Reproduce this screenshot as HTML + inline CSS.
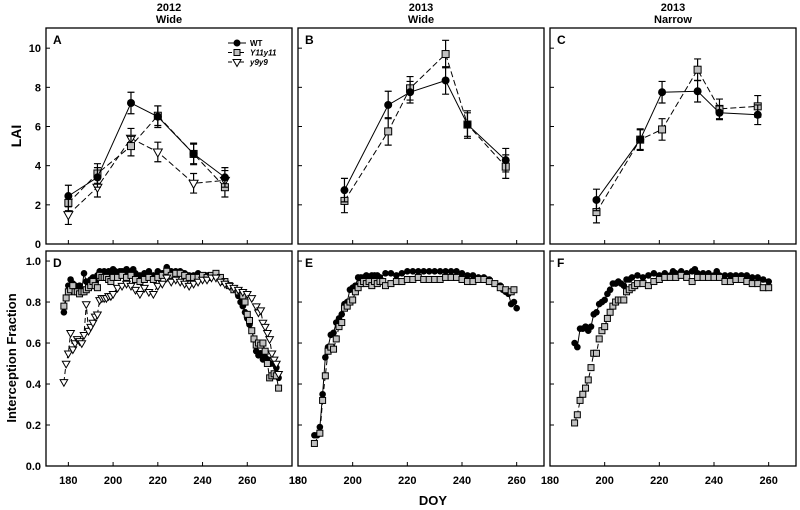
<!DOCTYPE html>
<html><head><meta charset="utf-8"><style>
body{margin:0;background:#fff;}
svg{display:block;font-family:"Liberation Sans",Arial,sans-serif;}
</style></head><body>
<svg id="c" width="800" height="510"></svg>
<script>
// ---- LAI data (top row) ----
const laiDaysA = [180,193,208,220,236,250];
const laiDaysBC = [197,213,221,234,242,256];
const laiA_WT = [2.45,3.4,7.2,6.5,4.6,3.4];
const laiA_WT_err = [0.55,0.5,0.55,0.55,0.55,0.5];
const laiA_Y11 = [2.1,3.6,5.0,6.55,4.6,2.9];
const laiA_Y11_err = [0.4,0.5,0.5,0.5,0.5,0.5];
const laiA_y9 = [1.5,2.9,5.4,4.7,3.1,3.25];
const laiA_y9_err = [0.5,0.5,0.5,0.5,0.5,0.5];
const laiB_WT = [2.75,7.1,7.75,8.35,6.1,4.28];
const laiB_WT_err = [0.6,0.7,0.55,0.7,0.7,0.6];
const laiB_Y11 = [2.2,5.75,7.95,9.7,6.1,3.95];
const laiB_Y11_err = [0.6,0.7,0.6,0.7,0.6,0.6];
const laiC_WT = [2.25,5.33,7.75,7.8,6.7,6.6];
const laiC_WT_err = [0.55,0.5,0.55,0.55,0.35,0.5];
const laiC_Y11 = [1.63,5.33,5.85,8.9,6.9,7.03];
const laiC_Y11_err = [0.55,0.55,0.55,0.55,0.5,0.55];
// ---- Interception data (bottom row) ----
const dDaysWT = [178,179,180,181,182,183,184,185,186,187,188,189,190,191,192,193,194,195,196,197,198,199,200,201,202,203,204,205,206,207,208,209,210,212,214,216,218,220,222,224,226,228,230,232,234,236,238,240,242,244,246,248,250,252,254,256,257,258,259,260,261,262,263,264,265,266,267,268,269,270,271,272,273,274];
const dWT = [0.75,0.82,0.88,0.91,0.89,0.88,0.87,0.88,0.86,0.94,0.9,0.9,0.91,0.92,0.9,0.93,0.95,0.94,0.95,0.94,0.95,0.93,0.96,0.95,0.94,0.95,0.95,0.94,0.96,0.94,0.95,0.96,0.94,0.93,0.94,0.95,0.93,0.95,0.94,0.97,0.95,0.95,0.95,0.94,0.93,0.93,0.94,0.93,0.93,0.93,0.93,0.92,0.9,0.88,0.86,0.83,0.8,0.78,0.75,0.72,0.69,0.66,0.62,0.56,0.54,0.55,0.52,0.53,0.52,0.5,0.5,0.5,0.48,0.43];
const dDaysY11 = [178,179,180,181,182,183,184,185,186,187,188,189,190,191,192,193,194,195,196,197,198,199,200,202,204,206,208,210,212,214,216,218,220,222,224,226,228,230,232,234,236,238,240,242,244,246,248,250,252,254,256,258,259,260,261,262,263,264,265,266,267,268,269,270,271,272,273,274];
const dY11 = [0.78,0.82,0.85,0.86,0.88,0.85,0.85,0.84,0.85,0.85,0.86,0.87,0.88,0.9,0.88,0.87,0.93,0.92,0.92,0.92,0.91,0.9,0.92,0.92,0.93,0.92,0.93,0.91,0.9,0.91,0.92,0.91,0.92,0.93,0.95,0.93,0.94,0.94,0.93,0.92,0.92,0.92,0.93,0.92,0.93,0.94,0.92,0.9,0.88,0.86,0.85,0.83,0.8,0.74,0.71,0.66,0.62,0.59,0.6,0.59,0.6,0.56,0.5,0.43,0.44,0.45,0.44,0.38];
const dDaysY9 = [178,179,180,181,182,183,184,185,186,187,188,189,190,191,192,193,194,195,196,197,198,199,200,202,204,206,208,210,212,214,216,218,220,222,224,226,228,230,232,234,236,238,240,242,244,246,248,250,252,254,256,258,260,262,264,265,266,267,268,269,270,271,272,273,274];
const dY9 = [0.41,0.5,0.55,0.65,0.57,0.6,0.62,0.61,0.6,0.64,0.79,0.66,0.68,0.7,0.73,0.74,0.81,0.82,0.82,0.82,0.83,0.83,0.84,0.87,0.88,0.89,0.88,0.86,0.84,0.87,0.85,0.84,0.88,0.89,0.92,0.9,0.91,0.9,0.89,0.88,0.89,0.9,0.91,0.91,0.92,0.92,0.9,0.89,0.88,0.87,0.86,0.85,0.84,0.82,0.78,0.75,0.76,0.7,0.68,0.65,0.62,0.55,0.52,0.5,0.45];
const eDaysWT = [186,187,188,189,190,191,192,193,194,195,196,197,198,199,200,201,202,203,204,205,206,207,208,209,210,212,214,216,218,220,222,224,226,228,230,232,234,236,238,240,242,244,246,248,250,252,254,255,256,257,258,259,260];
const eWT = [0.15,0.15,0.19,0.35,0.53,0.58,0.64,0.65,0.7,0.72,0.74,0.79,0.8,0.86,0.87,0.88,0.92,0.92,0.92,0.93,0.92,0.93,0.93,0.93,0.92,0.94,0.94,0.93,0.94,0.95,0.95,0.95,0.95,0.95,0.95,0.95,0.95,0.95,0.95,0.94,0.93,0.93,0.92,0.92,0.91,0.89,0.88,0.86,0.85,0.84,0.79,0.8,0.77];
const eDaysY11 = [186,188,189,190,191,192,193,194,195,196,197,198,199,200,201,202,203,204,205,206,207,208,209,210,211,212,214,216,218,220,222,224,226,228,230,232,234,236,238,240,242,244,246,248,250,252,254,256,258,259];
const eY11 = [0.11,0.16,0.32,0.44,0.56,0.58,0.57,0.62,0.68,0.7,0.77,0.78,0.8,0.81,0.85,0.87,0.89,0.9,0.89,0.9,0.88,0.9,0.89,0.9,0.9,0.88,0.89,0.9,0.9,0.91,0.91,0.92,0.91,0.91,0.91,0.91,0.92,0.92,0.92,0.91,0.9,0.9,0.91,0.91,0.9,0.89,0.87,0.86,0.85,0.86];
const fDaysWT = [189,190,191,192,193,194,195,196,197,198,199,200,201,202,203,204,205,206,207,208,209,210,212,214,216,218,220,222,224,225,226,228,230,232,233,234,236,238,240,241,242,244,246,248,250,252,254,256,258,260];
const fWT = [0.6,0.58,0.67,0.67,0.68,0.66,0.68,0.74,0.75,0.79,0.8,0.81,0.84,0.86,0.89,0.89,0.9,0.89,0.88,0.91,0.91,0.92,0.93,0.92,0.93,0.94,0.93,0.94,0.93,0.95,0.94,0.95,0.94,0.95,0.96,0.94,0.94,0.94,0.93,0.95,0.93,0.93,0.93,0.93,0.93,0.93,0.92,0.92,0.91,0.9];
const fDaysY11 = [189,190,191,192,193,194,195,196,197,198,199,200,201,202,203,204,205,206,207,208,209,210,211,212,214,216,218,220,222,224,226,228,230,232,234,236,238,240,242,244,246,248,250,252,254,256,258,260];
const fY11 = [0.21,0.25,0.32,0.35,0.38,0.42,0.48,0.55,0.55,0.62,0.66,0.68,0.72,0.75,0.78,0.8,0.81,0.81,0.81,0.85,0.86,0.87,0.88,0.89,0.89,0.88,0.9,0.91,0.92,0.92,0.92,0.93,0.92,0.9,0.92,0.92,0.92,0.92,0.92,0.9,0.9,0.91,0.91,0.9,0.89,0.89,0.87,0.87];
const xTicks = [180,200,220,240,260];
const laiTicks = [0,2,4,6,8,10];
const ifTicks = [0.0,0.2,0.4,0.6,0.8,1.0];

const NS='http://www.w3.org/2000/svg';
const svg=document.getElementById('c');
function mk(tag,attrs,parent){const e=document.createElementNS(NS,tag);for(const k in attrs)e.setAttribute(k,attrs[k]);(parent||svg).appendChild(e);return e;}
function txt(x,y,s,attrs,name){const t=mk('text',Object.assign({x:x,y:y},attrs));t.textContent=s;


return t;}

const cols=[{l:46,r:292,d0:170,d1:280},{l:298,r:544,d0:180,d1:270},{l:550,r:796,d0:180,d1:270}];
const topRow={t:28,b:244,v0:0,v1:11.03};
const botRow={t:251,b:466,v0:0,v1:1.049};
function X(c,d){return c.l+(d-c.d0)/(c.d1-c.d0)*(c.r-c.l);}
function Y(r,v){return r.b-(v-r.v0)/(r.v1-r.v0)*(r.b-r.t);}

function marker(kind,x,y,size,g){
  let m;
  if(kind==='WT'){m=mk('circle',{cx:x,cy:y,r:size,fill:'#000'},g);}
  else if(kind==='Y11'){m=mk('rect',{x:x-size,y:y-size,width:2*size,height:2*size,fill:'#c0c0c0',stroke:'#000','stroke-width':1},g);}
  else {m=mk('path',{d:`M${x-size-0.5},${y-size+1}L${x+size+0.5},${y-size+1}L${x},${y+size+1}Z`,fill:'#fff',stroke:'#000','stroke-width':1},g);}
  
  
}
function series(c,r,days,vals,kind,dash,size,errs,name){
  const g=mk('g',{});
  
  
  const pts=days.map((d,i)=>X(c,d).toFixed(1)+','+Y(r,vals[i]).toFixed(1)).join(' ');
  mk('polyline',{points:pts,fill:'none',stroke:'#000','stroke-width':1,'stroke-dasharray':dash||'none'},g);
  if(errs){days.forEach((d,i)=>{const x=X(c,d),y1=Y(r,vals[i]-errs[i]),y2=Y(r,vals[i]+errs[i]);
    mk('path',{d:`M${x},${y1}L${x},${y2}M${x-3.5},${y1}L${x+3.5},${y1}M${x-3.5},${y2}L${x+3.5},${y2}`,stroke:'#000','stroke-width':1.2,fill:'none'},g);});}
  days.forEach((d,i)=>marker(kind,X(c,d),Y(r,vals[i]),size,g));
}
function frame(c,r,name,letter,yt,fmt,showY){
  const f=mk('rect',{x:c.l,y:r.t,width:c.r-c.l,height:r.b-r.t,fill:'none',stroke:'#000','stroke-width':1.3});
  
  
  yt.forEach(v=>{const y=Y(r,v);mk('line',{x1:c.l,x2:c.l+4,y1:y,y2:y,stroke:'#000'});
    if(showY)txt(c.l-5,y+4,fmt(v),{'text-anchor':'end','font-size':11,'font-weight':'bold'},'y-tick-label');});
  xTicks.forEach(d=>{const x=X(c,d);mk('line',{x1:x,x2:x,y1:r.b,y2:r.b-4,stroke:'#000'});});
  txt(c.l+7,r.t+16,letter,{'font-size':12,'font-weight':'bold'},'panel-label-'+letter);
}
// frames
cols.forEach((c,i)=>{frame(c,topRow,'lai-panel-'+'ABC'[i],'ABC'[i],laiTicks,v=>String(v),i===0);
  frame(c,botRow,'interception-panel-'+'DEF'[i],'DEF'[i],ifTicks,v=>v.toFixed(1),i===0);
  [180,200,220,240,260].forEach(d=>txt(X(c,d),484,String(d),{'text-anchor':'middle','font-size':11,'font-weight':'bold'},'x-tick-label'));});
txt(X(cols[0],280)+3,484,'18',{'text-anchor':'middle','font-size':11,'font-weight':'bold'},'x-tick-label-partial');
// titles
[['2012','Wide'],['2013','Wide'],['2013','Narrow']].forEach((t,i)=>{const cx=(cols[i].l+cols[i].r)/2;
  txt(cx,11,t[0],{'text-anchor':'middle','font-size':11,'font-weight':'bold'},'panel-title-year');
  txt(cx,23,t[1],{'text-anchor':'middle','font-size':11,'font-weight':'bold'},'panel-title-spacing');});
txt(0,0,'LAI',{'text-anchor':'middle','font-size':14,'font-weight':'bold',transform:'translate(21,136) rotate(-90)'},'y-axis-title-lai');
txt(0,0,'Interception Fraction',{'text-anchor':'middle','font-size':13,'font-weight':'bold',transform:'translate(16,358) rotate(-90)'},'y-axis-title-interception');
txt(433,505,'DOY',{'text-anchor':'middle','font-size':13,'font-weight':'bold'},'x-axis-title');
// top row series
series(cols[0],topRow,laiDaysA,laiA_y9,'y9','6,3',4,laiA_y9_err,'series-a-y9y9');
series(cols[0],topRow,laiDaysA,laiA_Y11,'Y11','6,3',3.5,laiA_Y11_err,'series-a-y11y11');
series(cols[0],topRow,laiDaysA,laiA_WT,'WT',null,4,laiA_WT_err,'series-a-wt');
series(cols[1],topRow,laiDaysBC,laiB_Y11,'Y11','6,3',3.5,laiB_Y11_err,'series-b-y11y11');
series(cols[1],topRow,laiDaysBC,laiB_WT,'WT',null,4,laiB_WT_err,'series-b-wt');
series(cols[2],topRow,laiDaysBC,laiC_Y11,'Y11','6,3',3.5,laiC_Y11_err,'series-c-y11y11');
series(cols[2],topRow,laiDaysBC,laiC_WT,'WT',null,4,laiC_WT_err,'series-c-wt');
// bottom row
series(cols[0],botRow,dDaysWT,dWT,'WT',null,3.3,null,'series-d-wt');
series(cols[0],botRow,dDaysY11,dY11,'Y11','5,3',3,null,'series-d-y11y11');
series(cols[0],botRow,dDaysY9,dY9,'y9','5,3',3.3,null,'series-d-y9y9');
series(cols[1],botRow,eDaysWT,eWT,'WT',null,3.3,null,'series-e-wt');
series(cols[1],botRow,eDaysY11,eY11,'Y11','5,3',3,null,'series-e-y11y11');
series(cols[2],botRow,fDaysWT,fWT,'WT',null,3.3,null,'series-f-wt');
series(cols[2],botRow,fDaysY11,fY11,'Y11','5,3',3,null,'series-f-y11y11');
// legend
const lg=mk('g',{});


[['WT','WT',null,false],['Y11','Y11y11','4,2',true],['y9','y9y9','4,2',true]].forEach((e,i)=>{
  const y=43+i*9.5;
  mk('line',{x1:228,x2:246,y1:y,y2:y,stroke:'#000','stroke-dasharray':e[2]||'none'},lg);
  marker(e[0],237,y,e[0]==='Y11'?3:3.5,lg);
  txt(250,y+3,e[1],{'font-size':8,'font-weight':'bold','font-style':e[3]?'italic':'normal'},'legend-entry-'+e[1].toLowerCase());
});
</script>
</body></html>
